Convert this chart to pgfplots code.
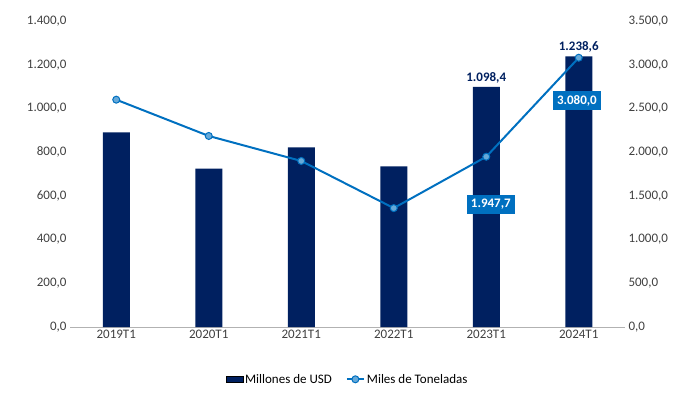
\documentclass[border=0pt]{standalone}
\usepackage{pgfplots}
\pgfplotsset{compat=1.18}
\usepackage{fontspec}
\setmainfont{Carlito}
\definecolor{navy}{HTML}{002060}
\definecolor{lblue}{HTML}{0070C0}
\begin{document}
\begin{tikzpicture}
\path[use as bounding box] (-70pt,-90pt) rectangle (630pt,327pt);
\pgfplotsset{every axis/.style={scale only axis,width=555pt,height=306pt,xmin=-0.5,xmax=5.5,
 /pgf/number format/.cd,fixed,fixed zerofill,precision=1,use comma,1000 sep={.},assume math mode=true,/pgfplots/.cd,
 tick label style={font=\fontsize{13}{14}\selectfont, text=black!75},
 tick style={draw=none}}}
\begin{axis}[ymin=0,ymax=1400,ytick={0,200,...,1400},
 axis y line*=left,axis x line*=bottom,
 xtick=data,xticklabels={2019T1,2020T1,2021T1,2022T1,2023T1,2024T1},
 x axis line style={draw=black!30,-},y axis line style={draw=none},
 legend style={at={(0.5,-0.14)},anchor=north,draw=none,legend columns=2,font=\fontsize{13}{14}\selectfont,/tikz/every even column/.append style={column sep=12pt}},
 legend cell align=left]
\addplot[ybar,bar width=27pt,fill=navy,draw=none,area legend] coordinates {(0,890)(1,725)(2,822)(3,735)(4,1098.4)(5,1238.6)};
\addlegendentry{Millones de USD}
\addlegendimage{lblue,line width=2pt,mark=*,mark size=3.5pt,mark options={fill=lblue!60!white,draw=lblue,line width=1pt}}
\addlegendentry{Miles de Toneladas}
\node[above,font=\bfseries\fontsize{13}{14}\selectfont,text=navy] at (axis cs:4,1098.4) {1.098,4};
\node[above,font=\bfseries\fontsize{13}{14}\selectfont,text=navy] at (axis cs:5,1238.6) {1.238,6};
\end{axis}
\begin{axis}[ymin=0,ymax=3500,ytick={0,500,...,3500},axis y line*=right,axis x line=none,
 y axis line style={draw=none},xtick=\empty]
\addplot[lblue,line width=2pt,mark=*,mark size=3.5pt,mark options={fill=lblue!60!white,draw=lblue,line width=1pt}] coordinates {(0,2600)(1,2185)(2,1899)(3,1360)(4,1947.7)(5,3080)};
\node[fill=lblue,text=white,font=\bfseries\fontsize{13}{14}\selectfont,inner sep=4pt] at (axis cs:4.05,1400) {1.947,7};
\node[fill=lblue,text=white,font=\bfseries\fontsize{13}{14}\selectfont,inner sep=4pt] at (axis cs:4.98,2590) {3.080,0};
\end{axis}
\end{tikzpicture}
\end{document}
